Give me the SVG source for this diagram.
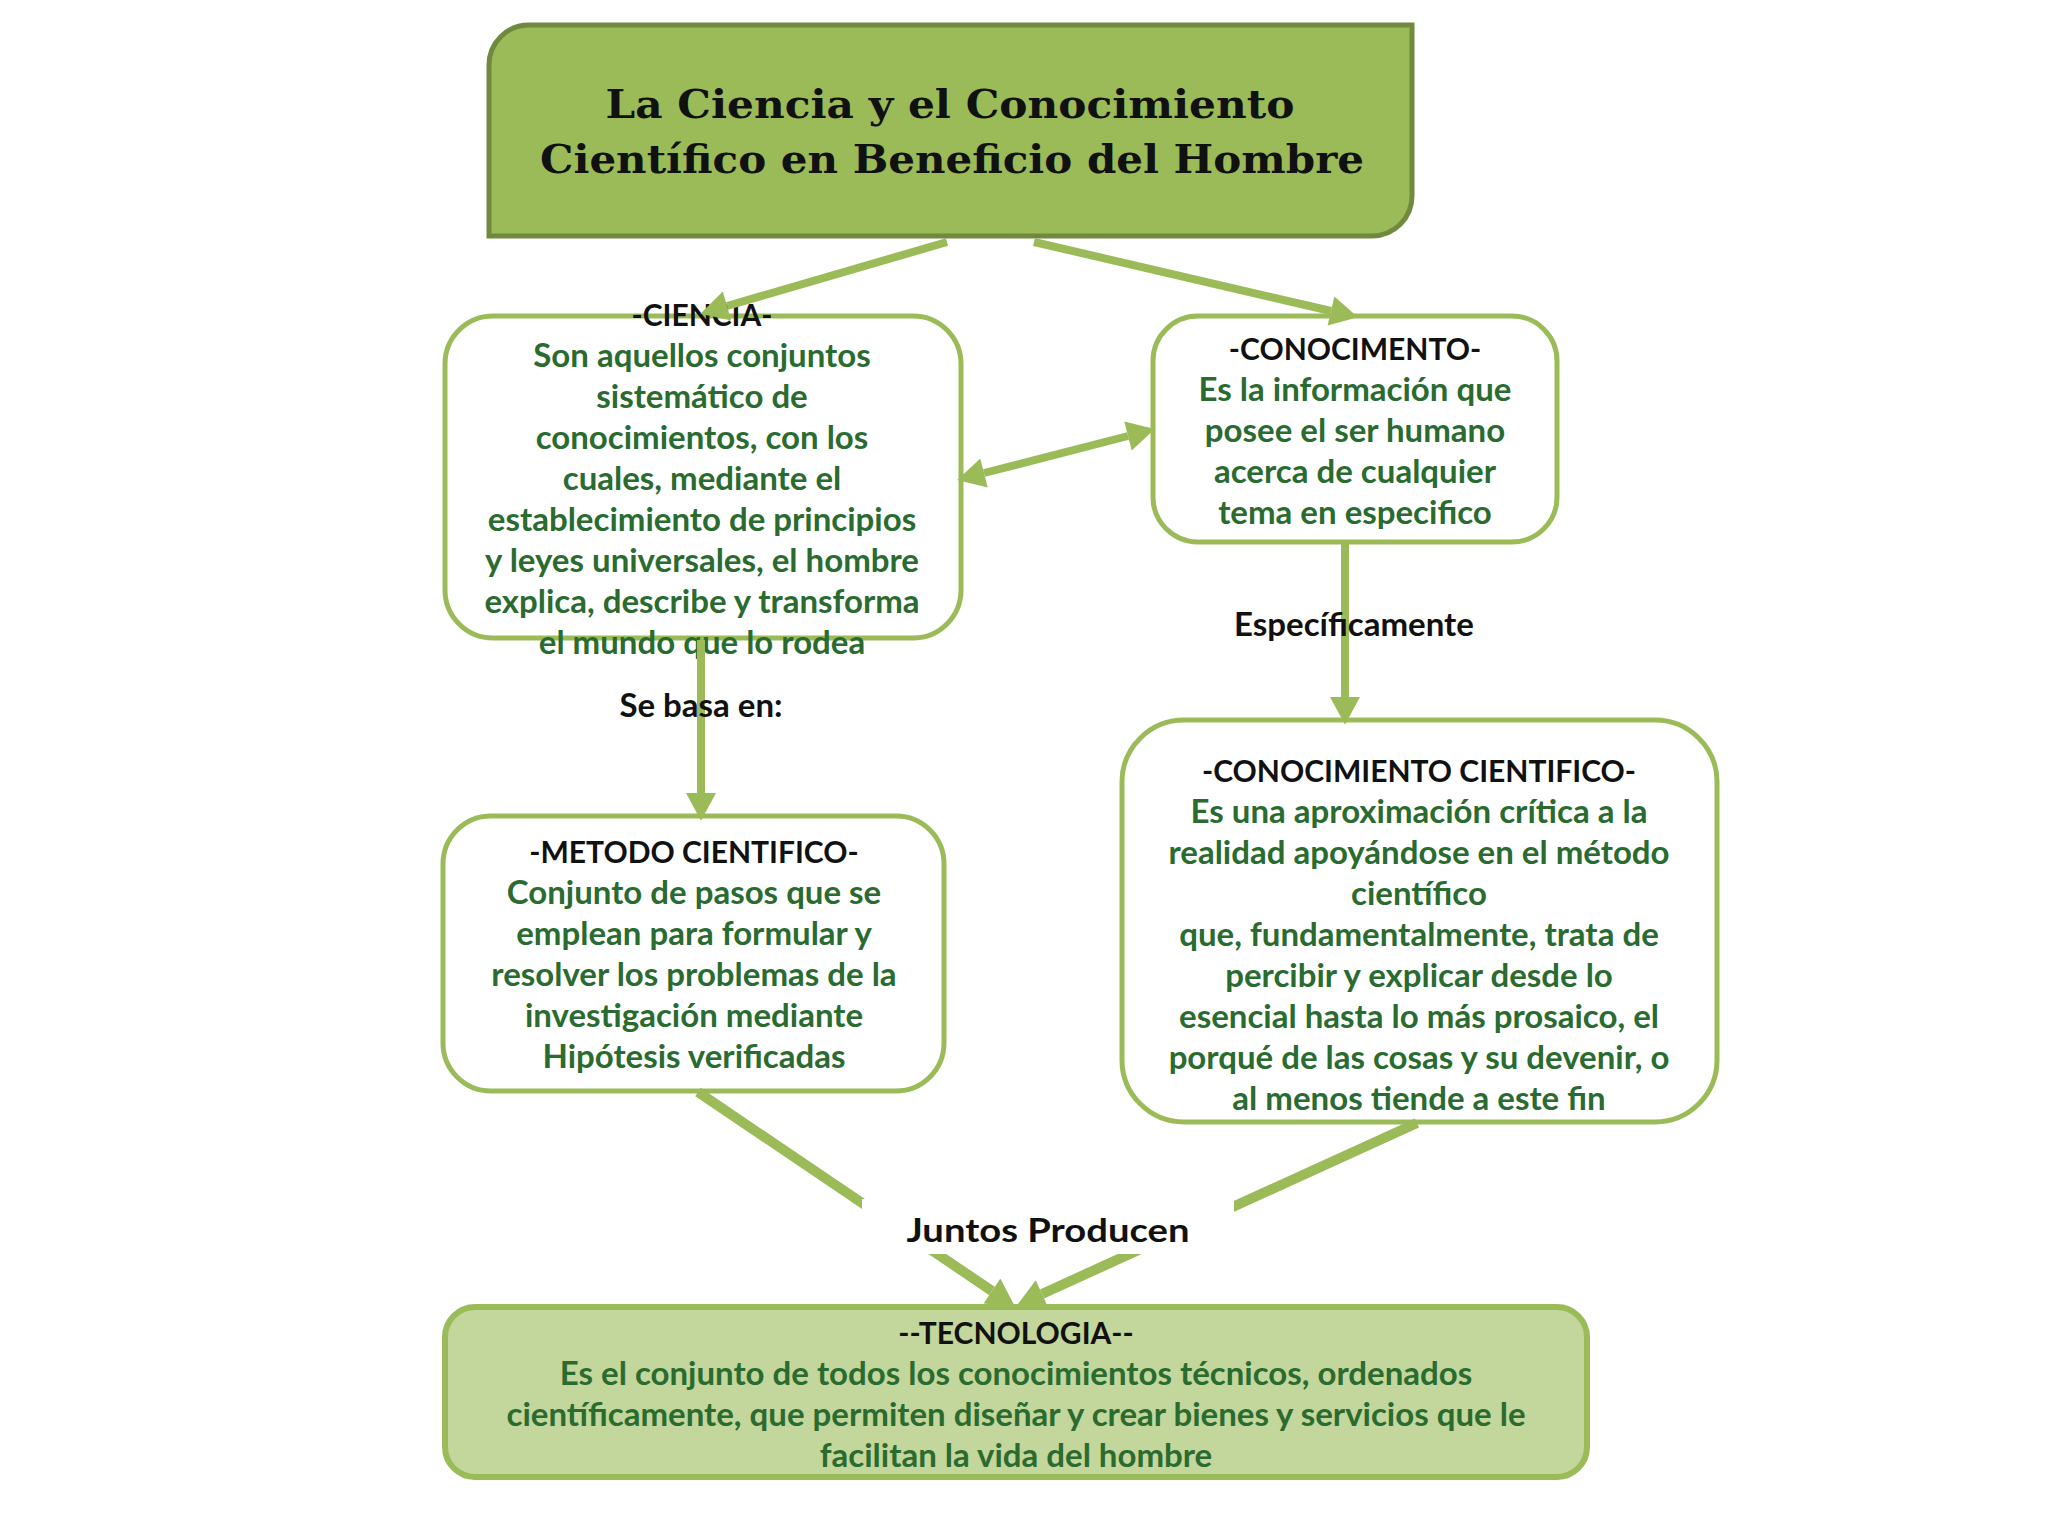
<svg xmlns="http://www.w3.org/2000/svg" width="2048" height="1536" viewBox="0 0 2048 1536">
<style>
.box{fill:#ffffff;stroke:#9BBB59;stroke-width:5}
.hd{font-family:Lato,"Open Sans",sans-serif;font-weight:bold;font-size:30px;fill:#111111;text-anchor:middle}
.bd{font-family:Lato,"Open Sans",sans-serif;font-weight:bold;font-size:33px;fill:#2A6B30;text-anchor:middle}
.lbl{font-family:Lato,"Open Sans",sans-serif;font-weight:bold;font-size:33px;fill:#111111;text-anchor:middle}
.ttl{font-family:"DejaVu Serif",serif;font-weight:bold;font-size:39px;fill:#111111;text-anchor:middle}
.cn{fill:none;stroke:#9BBB59;stroke-width:8}
.cnw{fill:none;stroke:#9BBB59;stroke-width:10}
</style>
<defs>
<marker id="ah" markerUnits="userSpaceOnUse" markerWidth="30" markerHeight="30" refX="0" refY="13" orient="auto-start-reverse" viewBox="0 0 24 26">
<path d="M0,0 L24,13 L0,26 Z" fill="#9BBB59"/>
</marker>
</defs>
<rect width="2048" height="1536" fill="#ffffff"/>
<g id="node-title">
<path d="M489,65 A40,40 0 0 1 529,25 L1412,25 L1412,196 A40,40 0 0 1 1372,236 L489,236 Z" fill="#9BBB59" stroke="#71893F" stroke-width="5"/>
<text class="ttl" x="950" y="118" textLength="689" lengthAdjust="spacingAndGlyphs">La Ciencia y el Conocimiento</text>
<text class="ttl" x="952" y="173" textLength="824" lengthAdjust="spacingAndGlyphs">Científico en Beneficio del Hombre</text>
</g>
<g id="node-ciencia">
<rect class="box" x="445" y="316" width="516" height="322" rx="48"/>
<text class="hd" x="702" y="326">-CIENCIA-</text>
<text class="bd" x="702" y="367">Son aquellos conjuntos</text>
<text class="bd" x="702" y="408">sistemático de</text>
<text class="bd" x="702" y="449">conocimientos, con los</text>
<text class="bd" x="702" y="490">cuales, mediante el</text>
<text class="bd" x="702" y="531">establecimiento de principios</text>
<text class="bd" x="702" y="572">y leyes universales, el hombre</text>
<text class="bd" x="702" y="613">explica, describe y transforma</text>
<text class="bd" x="702" y="654">el mundo que lo rodea</text>
</g>
<g id="node-conocimento">
<rect class="box" x="1153" y="316" width="404" height="226" rx="45"/>
<text class="hd" x="1355" y="360">-CONOCIMENTO-</text>
<text class="bd" x="1355" y="401">Es la información que</text>
<text class="bd" x="1355" y="442">posee el ser humano</text>
<text class="bd" x="1355" y="483">acerca de cualquier</text>
<text class="bd" x="1355" y="524">tema en especifico</text>
</g>
<g id="node-metodo">
<rect class="box" x="443" y="816" width="501" height="275" rx="48"/>
<text class="hd" x="694" y="863">-METODO CIENTIFICO-</text>
<text class="bd" x="694" y="904">Conjunto de pasos que se</text>
<text class="bd" x="694" y="945">emplean para formular y</text>
<text class="bd" x="694" y="986">resolver los problemas de la</text>
<text class="bd" x="694" y="1027">investigación mediante</text>
<text class="bd" x="694" y="1068">Hipótesis verificadas</text>
</g>
<g id="node-conocimiento-cientifico">
<rect class="box" x="1122" y="720" width="595" height="402" rx="62"/>
<text class="hd" x="1419" y="782">-CONOCIMIENTO CIENTIFICO-</text>
<text class="bd" x="1419" y="823">Es una aproximación crítica a la</text>
<text class="bd" x="1419" y="864">realidad apoyándose en el método</text>
<text class="bd" x="1419" y="905">científico</text>
<text class="bd" x="1419" y="946">que, fundamentalmente, trata de</text>
<text class="bd" x="1419" y="987">percibir y explicar desde lo</text>
<text class="bd" x="1419" y="1028">esencial hasta lo más prosaico, el</text>
<text class="bd" x="1419" y="1069">porqué de las cosas y su devenir, o</text>
<text class="bd" x="1419" y="1110">al menos tiende a este fin</text>
</g>
<g id="node-tecnologia">
<rect x="445" y="1307" width="1142" height="170" rx="30" fill="#C3D69B" stroke="#9BBB59" stroke-width="6"/>
<text class="hd" x="1016" y="1344">--TECNOLOGIA--</text>
<text class="bd" x="1016" y="1385">Es el conjunto de todos los conocimientos técnicos, ordenados</text>
<text class="bd" x="1016" y="1426">científicamente, que permiten diseñar y crear bienes y servicios que le</text>
<text class="bd" x="1016" y="1467">facilitan la vida del hombre</text>
</g>
<g id="connectors">
<path class="cn" d="M947,242 L727,306" marker-end="url(#ah)"/>
<path class="cn" d="M1034,242 L1331,311" marker-end="url(#ah)"/>
<path class="cn" d="M984,473 L1128,436" marker-start="url(#ah)" marker-end="url(#ah)"/>
<path class="cn" d="M701,640 L701,793" marker-end="url(#ah)"/>
<path class="cn" d="M1345,543 L1345,697" marker-end="url(#ah)"/>
<path class="cnw" d="M698,1092 L992,1291" marker-end="url(#ah)"/>
<path class="cnw" d="M1417,1123 L1042,1294" marker-end="url(#ah)"/>
<text class="lbl" x="701" y="717">Se basa en:</text>
<text class="lbl" x="1354" y="636">Específicamente</text>
<g id="label-juntos">
<rect x="862" y="1199" width="372" height="55" fill="#ffffff"/>
<text class="lbl" x="1048" y="1242" font-size="38" textLength="283" lengthAdjust="spacingAndGlyphs">Juntos Producen</text>
</g>
</g>
</svg>
